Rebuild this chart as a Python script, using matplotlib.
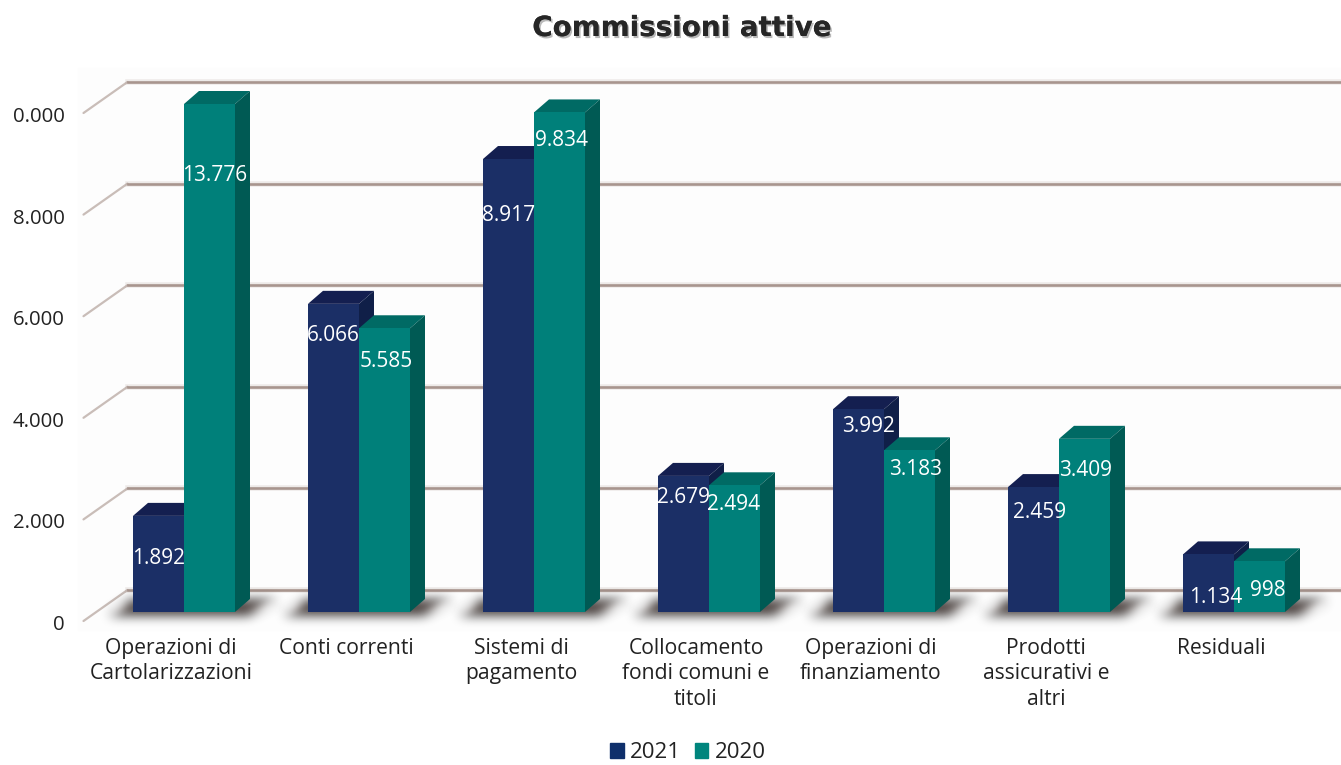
import matplotlib
matplotlib.use("Agg")
import matplotlib.pyplot as plt
import matplotlib.patheffects as pe
import numpy as np
from matplotlib.patches import Patch, Polygon, Rectangle
from matplotlib.transforms import ScaledTranslation

plt.rcParams["font.family"] = ["Open Sans", "DejaVu Sans"]

# ------------------------------------------------
# Data
# ------------------------------------------------

categories = [
    "Operazioni di\nCartolarizzazioni",
    "Conti correnti",
    "Sistemi di\npagamento",
    "Collocamento\nfondi comuni e\ntitoli",
    "Operazioni di\nfinanziamento",
    "Prodotti\nassicurativi e\naltri",
    "Residuali",
]
values_2021 = [1892, 6066, 8917, 2679, 3992, 2459, 1134]
values_2020 = [13776, 5585, 9834, 2494, 3183, 3409, 998]

y_ticks = [0, 2000, 4000, 6000, 8000, 10000]
y_labels = ["0", "2.000", "4.000", "6.000", "8.000", "0.000"]  # cropped in the original
y_max = 10000

# value label placement, pixels (drop below the bar top, shift to the right)
drop_2021 = [43, 32, 56, 22, 17, 25, 43]
drop_2020 = [72, 33, 28, 19, 19, 32, 29]
shift_2021 = [0, 0, 0, 0, 10, 6, 7]
shift_2020 = [5, 2, 2, -1, 6, 1, 8]

# ------------------------------------------------
# Colors + layout
# ------------------------------------------------

W, H = 1341, 765
BLUE = ("#1b2f66", "#141f50", "#101f48")  # front, top, side
TEAL = ("#00807a", "#006a64", "#005a54")
GRID = "#a8958e"
SHADOW = "#2e201c"

left_px, right_px = 83.5, 1341
bottom_px, top_px = 621, 113

x_unit = 175.0                       # pixels per category
y_unit = (bottom_px - top_px) / y_max  # pixels per value
x0_lim = -0.5
x1_lim = x0_lim + (right_px - left_px) / x_unit

def px_x(p):
    return p / x_unit

def px_y(p):
    return p / y_unit

def blur(img, dpi, r=5, passes=3):
    # box blur repeated a few times, for the soft floor shadow
    pad = r * passes + 1
    out = np.pad(img, ((pad, pad), (pad, pad), (0, 0)))
    kernel = np.ones(2 * r + 1) / (2 * r + 1)
    for _ in range(passes):
        for axis in (0, 1):
            out = np.apply_along_axis(np.convolve, axis, out, kernel, mode="same")
    return out, -pad, -pad

bar_w = px_x(51)
base_dx, base_dy = px_x(13), px_y(9)     # bars stand back from the axis plane
depth_x, depth_y = px_x(15), px_y(13)    # 3d depth of a bar
wall_dx, wall_dy = px_x(44), px_y(31)    # back wall of the chart

fig = plt.figure(figsize=(W / 100, H / 100), dpi=100, facecolor="white")
fig.add_artist(Rectangle((78 / W, 1 - 630 / H), (W - 78) / W, 562 / H,
                         transform=fig.transFigure, color="#fdfdfd", zorder=-5))

ax = fig.add_axes([left_px / W, 1 - bottom_px / H,
                   (right_px - left_px) / W, (bottom_px - top_px) / H])
ax.patch.set_alpha(0)
ax.set_xlim(x0_lim, x1_lim)
ax.set_ylim(0, y_max)
for s in ax.spines.values():
    s.set_visible(False)

# ------------------------------------------------
# Back wall grid
# ------------------------------------------------

for t in y_ticks:
    ax.plot([x0_lim, x0_lim + wall_dx], [t, t + wall_dy], color="#c9bdb8", lw=1.6,
            clip_on=False, zorder=1, solid_capstyle="round")
    ax.plot([x0_lim + wall_dx, x1_lim], [t + wall_dy, t + wall_dy], color=GRID, lw=4,
            alpha=0.18, clip_on=False, zorder=1)
    ax.plot([x0_lim + wall_dx, x1_lim], [t + wall_dy, t + wall_dy], color=GRID, lw=1.9,
            clip_on=False, zorder=1)

# ------------------------------------------------
# Floor shadows
# ------------------------------------------------

for i in range(len(categories)):
    a = i + base_dx - bar_w
    b = i + base_dx + bar_w
    pts = [(a - px_x(24), base_dy - px_y(3)), (a - px_x(2), base_dy + px_y(12)),
           (b + px_x(42), base_dy + px_y(12)), (b + px_x(14), base_dy - px_y(3))]
    shadow = Polygon(pts, closed=True, facecolor=SHADOW, edgecolor="none",
                     alpha=0.9, clip_on=False, zorder=2)
    shadow.set_agg_filter(blur)
    ax.add_patch(shadow)

# ------------------------------------------------
# Bars
# ------------------------------------------------

def draw_bar(x, v, colors, z):
    top = base_dy + min(v, y_max)
    ax.bar(x, min(v, y_max), bar_w, bottom=base_dy, align="edge", color=colors[0],
           clip_on=False, zorder=z + 0.2)
    xr = x + bar_w
    ax.add_patch(Polygon([(x, top), (x + depth_x, top + depth_y),
                          (xr + depth_x, top + depth_y), (xr, top)],
                         color=colors[1], lw=0, clip_on=False, zorder=z))
    ax.add_patch(Polygon([(xr, base_dy), (xr + depth_x, base_dy + depth_y),
                          (xr + depth_x, top + depth_y), (xr, top)],
                         color=colors[2], lw=0, clip_on=False, zorder=z + 0.1))

def draw_label(x, v, drop, shift):
    ax.text(x + bar_w / 2 + px_x(shift), base_dy + min(v, y_max) - px_y(drop),
            f"{v:,}".replace(",", "."), color="white", fontsize=15,
            ha="center", va="center", clip_on=False, zorder=20)

for i in range(len(categories)):
    x_a = i + base_dx - bar_w
    x_b = i + base_dx
    draw_bar(x_a, values_2021[i], BLUE, 3 + i)
    draw_bar(x_b, values_2020[i], TEAL, 3 + i + 0.5)
    draw_label(x_a, values_2021[i], drop_2021[i], shift_2021[i])
    draw_label(x_b, values_2020[i], drop_2020[i], shift_2020[i])

# ------------------------------------------------
# Axes text
# ------------------------------------------------

ax.set_yticks(y_ticks)
ax.set_yticklabels(y_labels, fontsize=14.7, color="#222222")
ax.set_xticks(range(len(categories)))
ax.set_xticklabels(categories, fontsize=15.2, color="#222222", linespacing=1.3, va="top")
ax.tick_params(axis="y", length=0, pad=13.5)
ax.tick_params(axis="x", length=0, pad=12)

# y labels sit a little lower in the original
for lab in ax.get_yticklabels():
    lab.set_transform(lab.get_transform() + ScaledTranslation(0, -1.5 / 100, fig.dpi_scale_trans))

fig.text(682 / W, 1 - 28 / H, "Commissioni attive", fontsize=20, fontweight="bold",
         family="DejaVu Sans", color="#262626", ha="center", va="center",
         path_effects=[pe.withSimplePatchShadow(offset=(1.2, -1.5), shadow_rgbFace="#808080", alpha=0.55),
                       pe.Normal()])

fig.legend(handles=[Patch(color="#0f2f6b", label="2021"), Patch(color="#00857d", label="2020")],
           loc="center", bbox_to_anchor=(688 / W, 1 - 753 / H), ncol=2, frameon=False,
           fontsize=16, handlelength=0.62, handleheight=0.62, handletextpad=0.3,
           columnspacing=0.6, labelcolor="#222222")

fig.savefig("out.png", dpi=100)
